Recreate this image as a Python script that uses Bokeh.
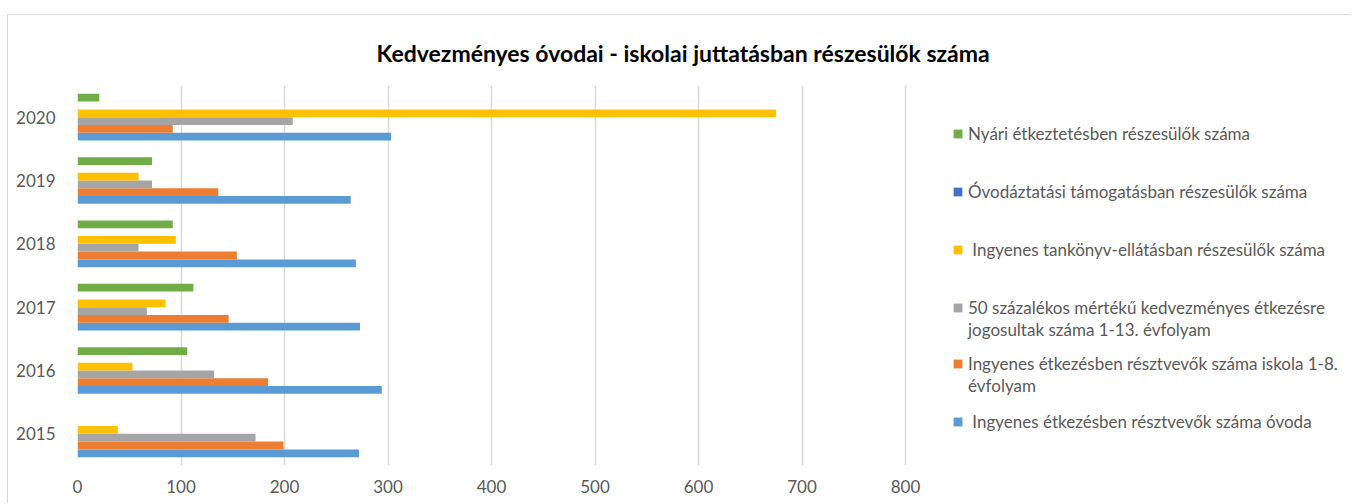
from bokeh.plotting import figure
from bokeh.models import ColumnDataSource, Range1d, FactorRange, FixedTicker, Legend, LegendItem
from bokeh.transform import dodge
from bokeh.embed import file_html
from bokeh.resources import INLINE

years = ["2015", "2016", "2017", "2018", "2019", "2020"]

ovoda = [272, 294, 273, 269, 264, 303]
iskola = [199, 184, 146, 154, 136, 92]
szazalek50 = [172, 132, 67, 59, 72, 208]
tankonyv = [39, 53, 85, 95, 59, 675]
ovodaztatasi = [0, 0, 0, 0, 0, 0]
nyari = [0, 106, 112, 92, 72, 21]

x_ticks = [0, 100, 200, 300, 400, 500, 600, 700, 800]

# legend label lines per series (first line carries the colour swatch)
series_labels = [
    [" Ingyenes étkezésben résztvevők száma óvoda"],
    ["Ingyenes étkezésben résztvevők száma iskola 1-8.", "évfolyam"],
    ["50 százalékos mértékű kedvezményes étkezésre", "jogosultak száma 1-13. évfolyam"],
    [" Ingyenes tankönyv-ellátásban részesülők száma"],
    ["Óvodáztatási támogatásban részesülők száma"],
    ["Nyári étkeztetésben részesülők száma"],
]
series_values = [ovoda, iskola, szazalek50, tankonyv, ovodaztatasi, nyari]
colors = ["#5B9BD5", "#ED7D31", "#A5A5A5", "#FFC000", "#4472C4", "#70AD47"]

FONT = "Lato"

# layout (pixels)
FRAME_LEFT = 69
FRAME_TOP = 70
FRAME_H = 380
W, H = 1344, 489
frame_w = W - FRAME_LEFT
x_end = 800 * frame_w / 828.0

p = figure(
    width=W, height=H,
    y_range=FactorRange(factors=years, range_padding=0),
    x_range=Range1d(0, x_end),
    output_backend="svg", toolbar_location=None,
    min_border_left=FRAME_LEFT, min_border_right=0,
    min_border_top=FRAME_TOP, min_border_bottom=H - FRAME_TOP - FRAME_H,
)

data = {"year": years}
for i, vals in enumerate(series_values):
    data[f"s{i}"] = vals
src = ColumnDataSource(data)

bar_h = 0.123
renderers = []
for i in range(len(series_values)):
    off = (i - 2.5) * bar_h
    r = p.hbar(y=dodge("year", off, range=p.y_range), left=0, right=f"s{i}", height=bar_h,
               source=src, fill_color=colors[i], line_color=None)
    renderers.append(r)

# legend line placement: (offset from frame bottom, in px) for each line of each series
legend_y = [[33], [91, 69], [147, 125], [205], [263], [321]]
LEG_X = 875
for i in range(6):
    for j, line in enumerate(series_labels[i]):
        first = (j == 0)
        lg = Legend(items=[LegendItem(label=line, renderers=[renderers[i]])],
                    location=(LEG_X, legend_y[i][j]), padding=0, margin=0,
                    border_line_color=None, background_fill_alpha=0,
                    label_text_font=FONT, label_text_font_size="17px", label_text_color="#595959",
                    glyph_width=11 if first else 0, glyph_height=11,
                    label_standoff=5 if first else 16, label_height=19)
        p.add_layout(lg, "center")

p.title.text = "Kedvezményes óvodai - iskolai juttatásban részesülők száma"
p.title.align = "left"
p.title.offset = 299
p.title.standoff = 34
p.title.vertical_align = "top"
p.title.text_font = FONT
p.title.text_font_style = "bold"
p.title.text_font_size = "23px"
p.title.text_color = "#000000"

p.xaxis.ticker = FixedTicker(ticks=x_ticks)
for ax in (p.xaxis[0], p.yaxis[0]):
    ax.axis_line_color = None
    ax.major_tick_line_color = None
    ax.minor_tick_line_color = None
    ax.major_label_text_font = FONT
    ax.major_label_text_font_size = "17px"
    ax.major_label_text_color = "#595959"
p.xaxis.major_label_standoff = 8
p.yaxis.major_label_standoff = 16

p.xgrid.grid_line_color = "#d9d9d9"
p.xgrid.grid_line_width = 1.5
p.ygrid.grid_line_color = None
p.outline_line_color = None
p.background_fill_color = "white"
p.border_fill_color = "white"
p.styles = {"margin-left": "7px", "margin-top": "14px",
            "border-left": "1px solid #d9d9d9", "border-top": "1px solid #d9d9d9"}

open("out.html", "w").write(file_html(p, INLINE))
